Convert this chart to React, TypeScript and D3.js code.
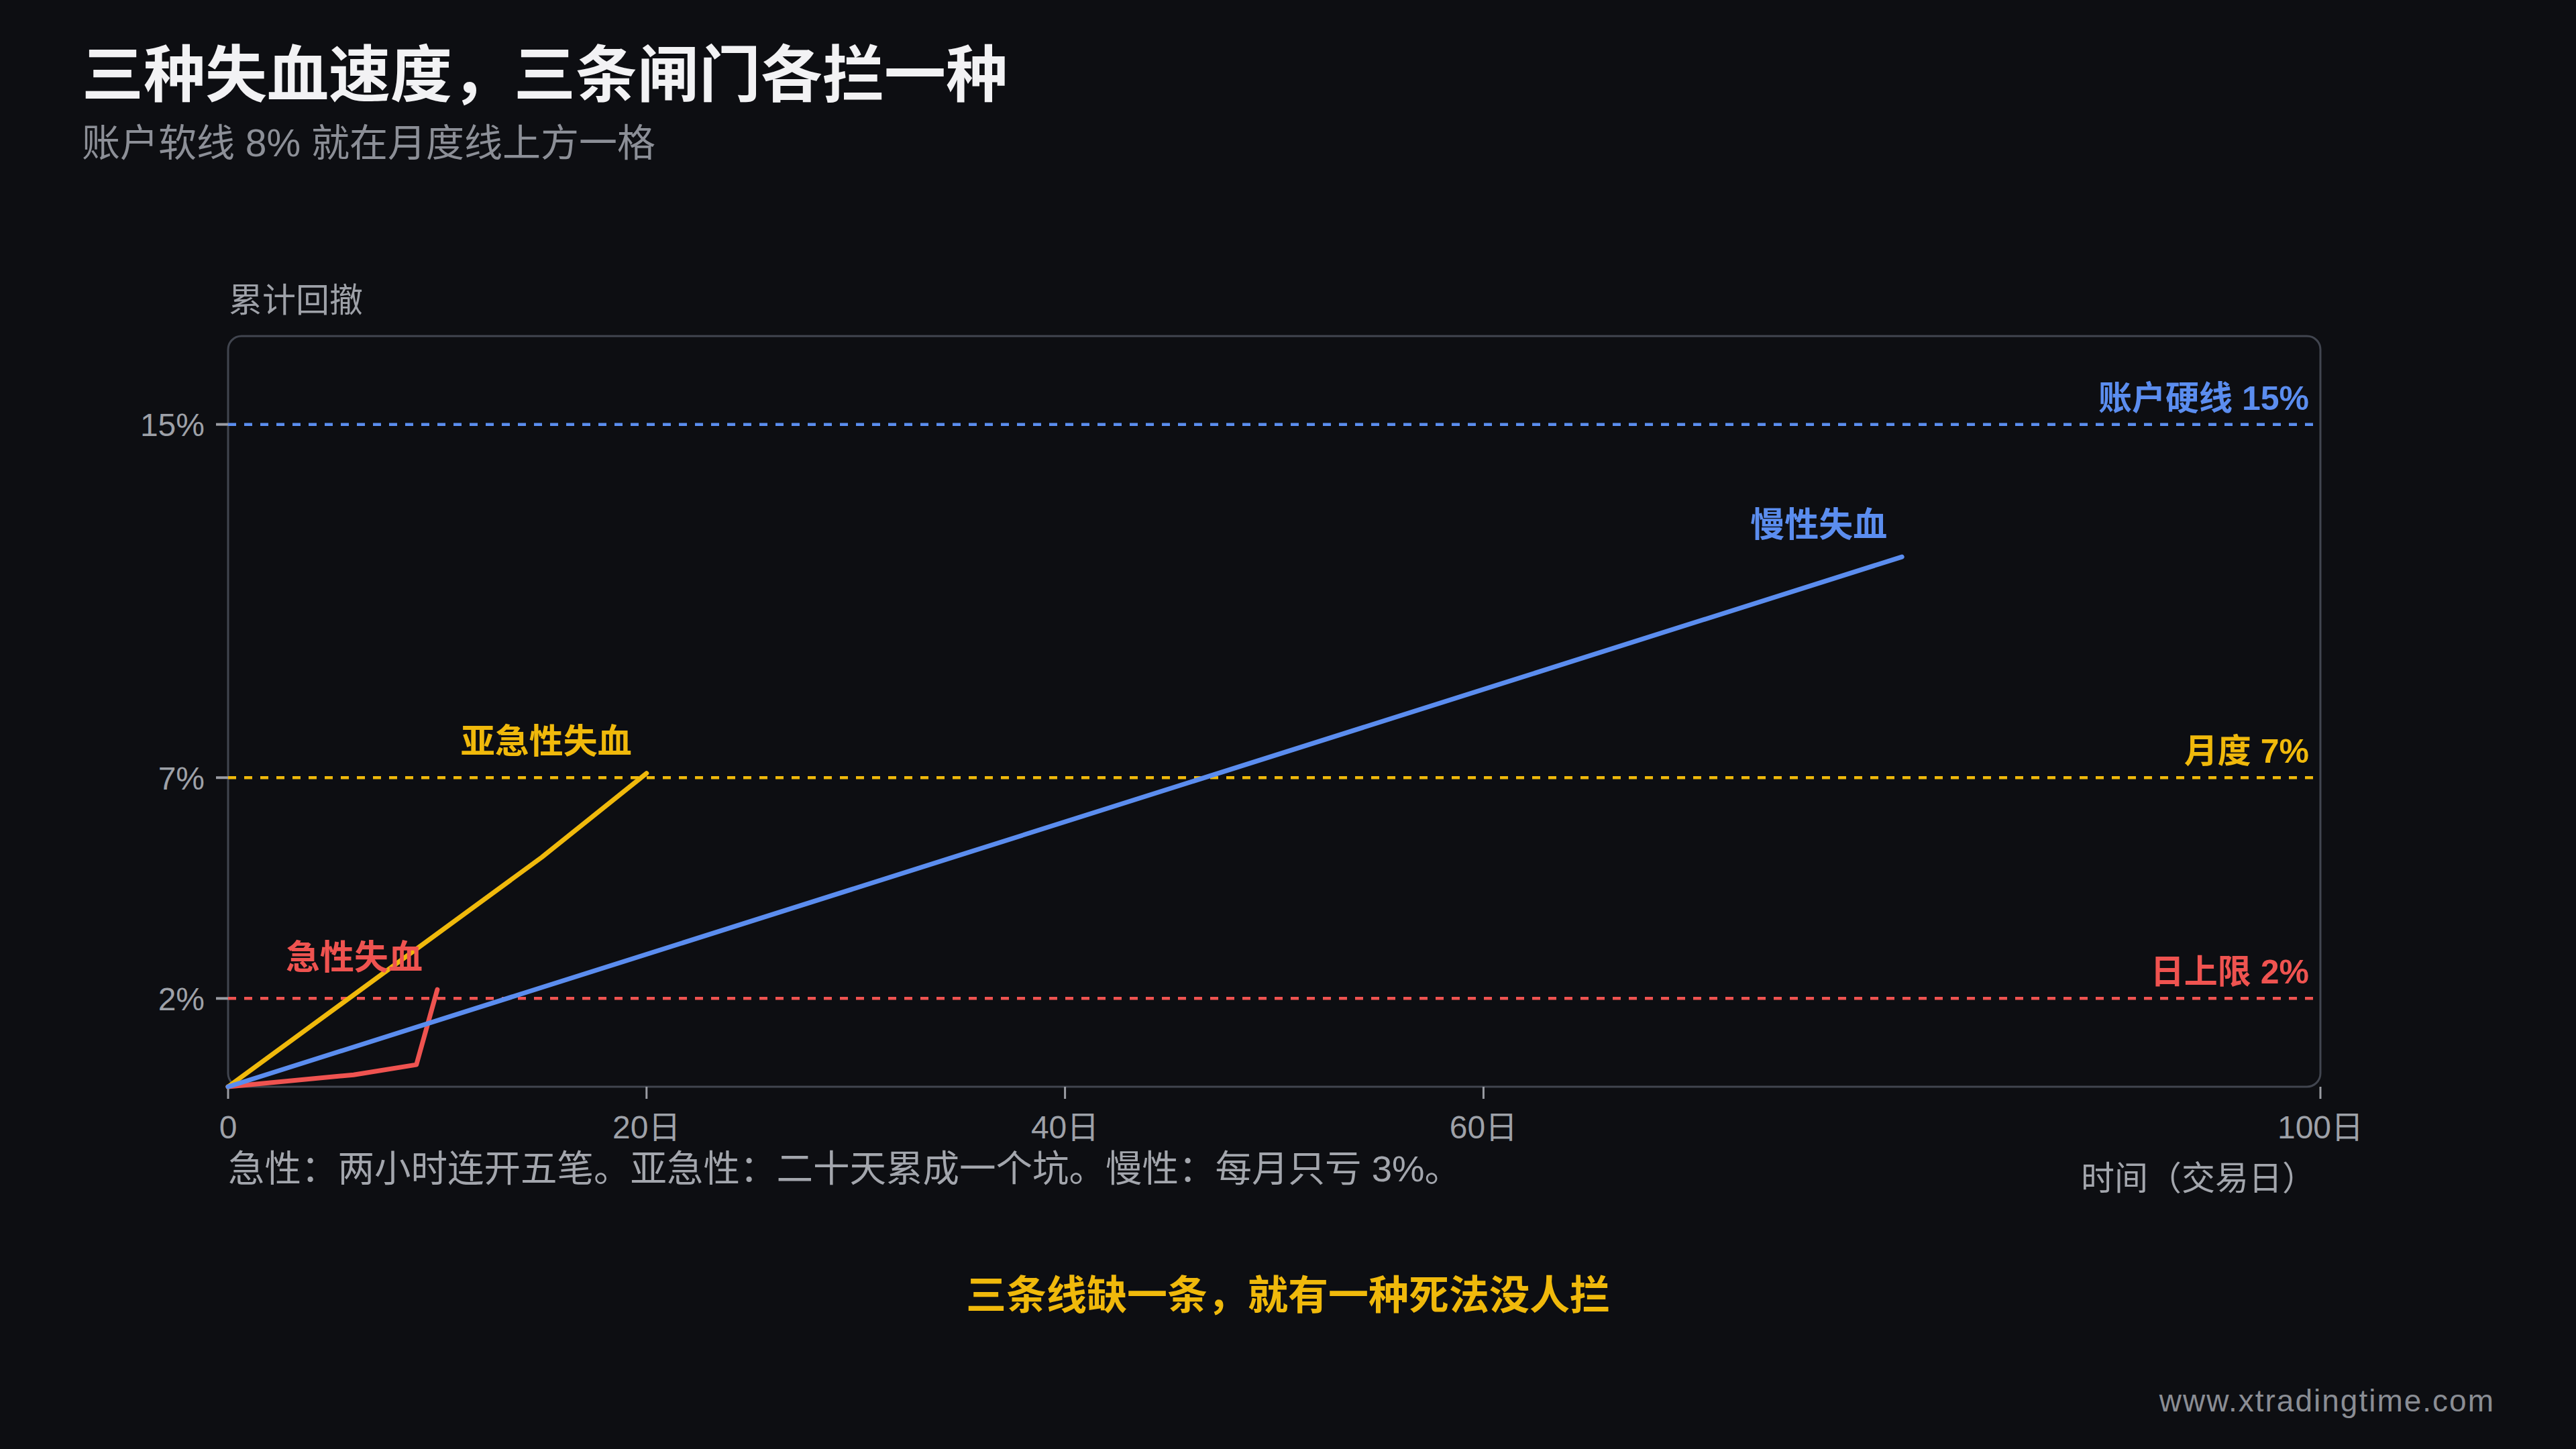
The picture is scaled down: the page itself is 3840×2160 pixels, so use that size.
import React from "react";
import * as d3 from "d3";

// ---- data ----
const acuteDays = [0, 6, 9, 10];
const acuteDrawdown = [0, 0.27, 0.5, 2.2];
const subacuteDays = [0, 15, 20];
const subacuteDrawdown = [0, 5.2, 7.1];
const chronicDays = [0, 80];
const chronicDrawdown = [0, 12];

const seriesNames = ["急性失血", "亚急性失血", "慢性失血"];

const thresholdValues = [15, 7, 2];
const thresholdLabels = ["账户硬线 15%", "月度 7%", "日上限 2%"];

const xTickValues = [0, 20, 40, 60, 100];
const xTickLabels = ["0", "20日", "40日", "60日", "100日"];
const yTickValues = [2, 7, 15];
const yTickLabels = ["2%", "7%", "15%"];

const title = "三种失血速度，三条闸门各拦一种";
const subtitle = "账户软线 8% 就在月度线上方一格";
const yAxisTitle = "累计回撤";
const xAxisTitle = "时间（交易日）";
const caption = "急性：两小时连开五笔。亚急性：二十天累成一个坑。慢性：每月只亏 3%。";
const footer = "三条线缺一条，就有一种死法没人拦";
const watermark = "www.xtradingtime.com";

// ---- style ----
const W = 3840;
const H = 2160;
const BG = "#0d0e12";
const RED = "#ef5350";
const YELLOW = "#f0b90b";
const BLUE = "#5b8def";
const FONT = '"Liberation Sans", "Noto Sans CJK SC", "Noto Sans", sans-serif';

const plot = { left: 340, right: 3459, top: 501, bottom: 1620 };

export default function App() {
  const x = d3.scaleLinear().domain([0, 100]).range([plot.left, plot.right]);
  const y = d3.scaleLinear().domain([0, 17]).range([plot.bottom, plot.top]);

  const line = d3
    .line<[number, number]>()
    .x((d) => x(d[0]))
    .y((d) => y(d[1]));

  const series = [
    { name: seriesNames[0], color: RED, pts: acuteDays.map((d, i) => [d, acuteDrawdown[i]] as [number, number]) },
    { name: seriesNames[1], color: YELLOW, pts: subacuteDays.map((d, i) => [d, subacuteDrawdown[i]] as [number, number]) },
    { name: seriesNames[2], color: BLUE, pts: chronicDays.map((d, i) => [d, chronicDrawdown[i]] as [number, number]) },
  ];
  const thresholdColors = [BLUE, YELLOW, RED];

  return (
    <svg
      width={W}
      height={H}
      viewBox={`0 0 ${W} ${H}`}
      style={{ position: "absolute", left: 0, top: 0, display: "block" }}
      fontFamily={FONT}
    >
      <rect x={0} y={0} width={W} height={H} fill={BG} />

      {/* titles */}
      <text x={122} y={144} fill="#f2f2f4" fontSize={92} fontWeight={700}>
        {title}
      </text>
      <text x={122} y={233} fill="#8c8f97" fontSize={57}>
        {subtitle}
      </text>
      <text x={341} y={465} fill="#9ea1a8" fontSize={50}>
        {yAxisTitle}
      </text>

      {/* plot frame */}
      <rect
        x={plot.left}
        y={plot.top}
        width={plot.right - plot.left}
        height={plot.bottom - plot.top}
        rx={20}
        ry={20}
        fill="none"
        stroke="#41454f"
        strokeWidth={3}
      />

      {/* y ticks */}
      {yTickValues.map((v, i) => (
        <g key={"yt" + v}>
          <line x1={plot.left - 18} x2={plot.left} y1={y(v)} y2={y(v)} stroke="#9a9ca3" strokeWidth={4} />
          <text
            x={plot.left - 35}
            y={y(v)}
            dy="0.36em"
            textAnchor="end"
            fill="#9ea1a8"
            fontSize={48}
          >
            {yTickLabels[i]}
          </text>
        </g>
      ))}

      {/* x ticks */}
      {xTickValues.map((v, i) => (
        <g key={"xt" + v}>
          <line x1={x(v)} x2={x(v)} y1={plot.bottom} y2={plot.bottom + 18} stroke="#9a9ca3" strokeWidth={3} />
          <text x={x(v)} y={plot.bottom + 77} textAnchor="middle" fill="#9ea1a8" fontSize={48}>
            {xTickLabels[i]}
          </text>
        </g>
      ))}

      {/* thresholds */}
      {thresholdValues.map((v, i) => (
        <g key={"th" + v}>
          <line
            x1={plot.left}
            x2={plot.right - 10}
            y1={y(v)}
            y2={y(v)}
            stroke={thresholdColors[i]}
            strokeWidth={4.5}
            strokeDasharray="12 12"
          />
          <text
            x={plot.right - 17}
            y={y(v) - 22}
            textAnchor="end"
            fill={thresholdColors[i]}
            fontSize={50}
            fontWeight={700}
          >
            {thresholdLabels[i]}
          </text>
        </g>
      ))}

      {/* series lines */}
      {series.map((s) => (
        <path
          key={s.name}
          d={line(s.pts) || ""}
          fill="none"
          stroke={s.color}
          strokeWidth={7}
          strokeLinecap="round"
          strokeLinejoin="round"
        />
      ))}

      {/* series labels */}
      {series.map((s) => {
        const last = s.pts[s.pts.length - 1];
        return (
          <text
            key={"lbl" + s.name}
            x={x(last[0]) - 22}
            y={y(last[1]) - 30}
            textAnchor="end"
            fill={s.color}
            fontSize={51}
            fontWeight={700}
          >
            {s.name}
          </text>
        );
      })}

      {/* caption + axis title */}
      <text x={340} y={1761} fill="#a3a6ad" fontSize={54.5}>
        {caption}
      </text>
      <text x={3452} y={1774} textAnchor="end" fill="#a3a6ad" fontSize={50}>
        {xAxisTitle}
      </text>

      {/* footer */}
      <text x={1920} y={1952} textAnchor="middle" fill={YELLOW} fontSize={60} fontWeight={700}>
        {footer}
      </text>

      <text x={3719} y={2104} textAnchor="end" fill="#8a8d94" fontSize={46} letterSpacing={2}>
        {watermark}
      </text>
    </svg>
  );
}
